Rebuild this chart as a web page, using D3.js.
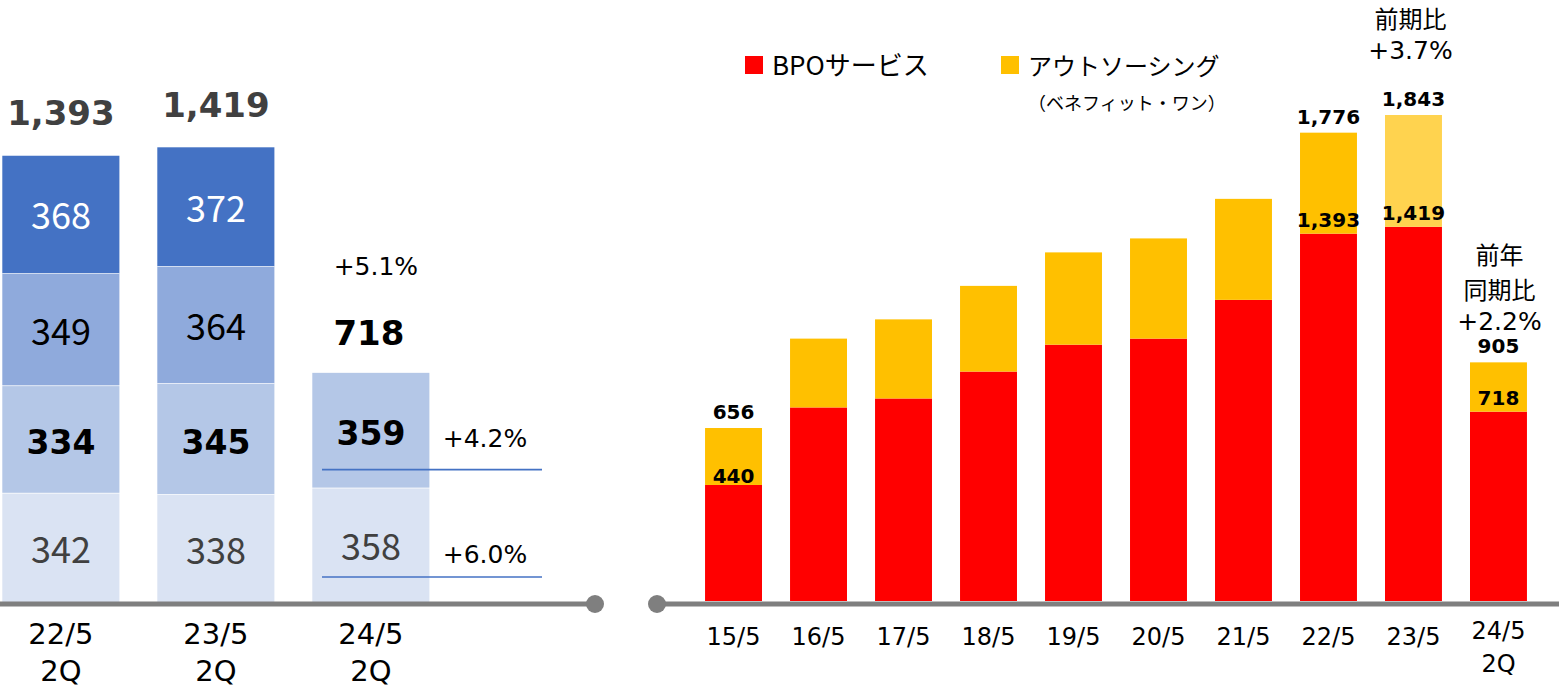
<!DOCTYPE html>
<html lang="ja">
<head>
<meta charset="utf-8">
<script src="https://d3js.org/d3.v7.min.js"></script>
<style>
  * { margin: 0; padding: 0; }
  body { background: #fff; }
  svg text { font-family: "Noto Sans CJK JP", "Noto Sans", sans-serif; }
</style>
</head>
<body>
<div id="chart"></div>
<script>
// ---- 左: 四半期別 ----
const leftCats = ["22/5 2Q", "23/5 2Q", "24/5 2Q"];
const q1 = [342, 338, 358];
const q2 = [334, 345, 359];
const q3 = [349, 364, 0];
const q4 = [368, 372, 0];
const leftTotals = ["1,393", "1,419", "718"];
const leftGrowth = ["+5.1%", "+4.2%", "+6.0%"];

// ---- 右: 年度別 ----
const years = ["15/5", "16/5", "17/5", "18/5", "19/5", "20/5", "21/5", "22/5", "23/5", "24/5 2Q"];
const bpo = [440, 734, 768, 870, 972, 995, 1142, 1393, 1419, 718];
const outsourcing = [216, 261, 300, 325, 350, 380, 383, 383, 424, 187];
const totalLabels = ["656", "", "", "", "", "", "", "1,776", "1,843", "905"];
const bpoLabels = ["440", "", "", "", "", "", "", "1,393", "1,419", "718"];

const width = 1559, height = 691;
const svg = d3.select("#chart").append("svg")
  .attr("width", width).attr("height", height);

const VER = "'DejaVu Sans'";

/* ------------------ 左のチャート ------------------ */
const xL = d3.scaleBand().domain(leftCats).range([-35.2, 467]).padding(0.24);
const yL = d3.scaleLinear().domain([0, 1419]).range([603, 147]);

const qColors = ["#DAE3F3", "#B4C7E7", "#8FAADC", "#4472C4"];
const quarters = [q1, q2, q3, q4];
const qLabelStyle = [
  { fill: "#404040", weight: "normal", font: "'Noto Sans CJK JP'" },
  { fill: "#000", weight: "bold", font: VER },
  { fill: "#000", weight: "normal", font: "'Noto Sans CJK JP'" },
  { fill: "#fff", weight: "normal", font: "'Noto Sans CJK JP'" }
];

leftCats.forEach((c, i) => {
  let base = 0;
  quarters.forEach((q, k) => {
    const v = q[i];
    if (!v) return;
    const y0 = yL(base), y1 = yL(base + v);
    svg.append("rect")
      .attr("x", xL(c)).attr("y", y1)
      .attr("width", xL.bandwidth()).attr("height", y0 - y1)
      .attr("fill", qColors[k])
      .attr("stroke", "#fff").attr("stroke-width", 0.6);
    const st = qLabelStyle[k];
    svg.append("text")
      .attr("x", xL(c) + xL.bandwidth() / 2)
      .attr("y", (y0 + y1) / 2 + 15)
      .attr("text-anchor", "middle")
      .style("font-family", st.font)
      .style("font-size", st.weight === "bold" ? "33px" : "36px")
      .style("font-weight", st.weight)
      .attr("fill", st.fill)
      .text(v);
    base += v;
  });
});

// 合計
leftCats.forEach((c, i) => {
  const tot = d3.sum(quarters, q => q[i]);
  const last = i === 2;
  svg.append("text")
    .attr("x", xL(c) + xL.bandwidth() / 2 + (last ? -2 : 0))
    .attr("y", last ? yL(tot) - 28 : yL(tot) - 30)
    .attr("text-anchor", "middle")
    .style("font-family", VER)
    .style("font-size", "34px")
    .style("font-weight", "bold")
    .attr("fill", last ? "#000" : "#404040")
    .text(leftTotals[i]);
});

// 24/5 2Q 伸び率
const c3 = leftCats[2];
svg.append("text")
  .attr("x", xL(c3) + xL.bandwidth() / 2 + 5)
  .attr("y", yL(717) - 98)
  .attr("text-anchor", "middle")
  .style("font-family", VER)
  .style("font-size", "25px")
  .attr("fill", "#000")
  .text(leftGrowth[0]);

const growthBase = [q1[2] + q2[2], q1[2]];
const lineOff = [97, 89];
const textOff = [23, 14];
[leftGrowth[1], leftGrowth[2]].forEach((g, k) => {
  const ly = yL(growthBase[k]) + lineOff[k];
  svg.append("line")
    .attr("x1", xL(c3) + 10).attr("x2", xL(c3) + 230)
    .attr("y1", ly).attr("y2", ly)
    .attr("stroke", "#4472C4").attr("stroke-width", 1.6);
  svg.append("text")
    .attr("x", xL(c3) + 173)
    .attr("y", ly - textOff[k])
    .attr("text-anchor", "middle")
    .style("font-family", VER)
    .style("font-size", "25px")
    .attr("fill", "#000")
    .text(g);
});

// 左 軸
svg.append("line")
  .attr("x1", 0).attr("x2", 595).attr("y1", 604).attr("y2", 604)
  .attr("stroke", "#7F7F7F").attr("stroke-width", 5);
svg.append("circle").attr("cx", 595).attr("cy", 604).attr("r", 9).attr("fill", "#7F7F7F");

const axL = svg.append("g").attr("transform", "translate(0,604)")
  .call(d3.axisBottom(xL).tickSize(0).tickPadding(0).tickFormat(""));
axL.select(".domain").remove();
axL.selectAll(".tick").each(function(d) {
  d.split(" ").forEach((p, j) => {
    d3.select(this).append("text")
      .attr("text-anchor", "middle")
      .attr("fill", "#000")
      .style("font-family", VER)
      .style("font-size", "29px")
      .attr("x", 0).attr("y", 40 + j * 37).text(p);
  });
});

/* ------------------ 右のチャート ------------------ */
const xR = d3.scaleBand().domain(years).range([677, 1555]).padding(0.33);
const yR = d3.scaleLinear().domain([0, 1843]).range([601, 115]);

years.forEach((yr, i) => {
  const x = xR(yr), w = xR.bandwidth();
  svg.append("rect")
    .attr("x", x).attr("y", yR(bpo[i]))
    .attr("width", w).attr("height", yR(0) - yR(bpo[i]))
    .attr("fill", "#FF0000");
  svg.append("rect")
    .attr("x", x).attr("y", yR(bpo[i] + outsourcing[i]))
    .attr("width", w).attr("height", yR(bpo[i]) - yR(bpo[i] + outsourcing[i]))
    .attr("fill", i === 8 ? "#FFD34F" : "#FFC000");
  if (totalLabels[i]) {
    svg.append("text")
      .attr("x", x + w / 2)
      .attr("y", yR(bpo[i] + outsourcing[i]) - 9)
      .attr("text-anchor", "middle")
      .style("font-family", VER)
      .style("font-size", "20px").style("font-weight", "bold")
      .attr("fill", "#000")
      .text(totalLabels[i]);
  }
  if (bpoLabels[i]) {
    svg.append("text")
      .attr("x", x + w / 2)
      .attr("y", yR(bpo[i]) - (i === 0 ? 2 : 7))
      .attr("text-anchor", "middle")
      .style("font-family", VER)
      .style("font-size", "20px").style("font-weight", "bold")
      .attr("fill", "#000")
      .text(bpoLabels[i]);
  }
});

// 注記
function note(lines, cx, y0) {
  let y = y0;
  lines.forEach((s, j) => {
    const isPct = s.startsWith("+");
    if (j > 0) y += isPct ? 31 : 35;
    svg.append("text")
      .attr("x", cx).attr("y", y)
      .attr("text-anchor", "middle")
      .style("font-family", isPct ? VER : "'Noto Sans CJK JP'")
      .style("font-size", isPct ? "25px" : "24px")
      .attr("fill", "#000")
      .text(s);
  });
}
note(["前期比", "+3.7%"], xR("23/5") + xR.bandwidth() / 2 - 3, 28);
note(["前年", "同期比", "+2.2%"], xR("24/5 2Q") + xR.bandwidth() / 2 + 1, 264);

// 右 軸
svg.append("line")
  .attr("x1", 657).attr("x2", 1559).attr("y1", 604).attr("y2", 604)
  .attr("stroke", "#7F7F7F").attr("stroke-width", 5);
svg.append("circle").attr("cx", 657).attr("cy", 604).attr("r", 9).attr("fill", "#7F7F7F");

const axR = svg.append("g").attr("transform", "translate(0,604)")
  .call(d3.axisBottom(xR).tickSize(0).tickPadding(0).tickFormat(""));
axR.select(".domain").remove();
axR.selectAll(".tick").each(function(d) {
  const parts = d.split(" ");
  parts.forEach((p, j) => {
    d3.select(this).append("text")
      .attr("text-anchor", "middle")
      .attr("fill", "#000")
      .style("font-family", VER)
      .style("font-size", "24px")
      .attr("x", 0)
      .attr("y", (parts.length > 1 ? 35 : 41) + j * 33).text(p);
  });
});

// 凡例
const legend = [
  { label: "BPOサービス", color: "#FF0000", x: 745, size: 26 },
  { label: "アウトソーシング", color: "#FFC000", x: 1001, size: 24 }
];
legend.forEach(l => {
  svg.append("rect").attr("x", l.x).attr("y", 56).attr("width", 18).attr("height", 18).attr("fill", l.color);
  svg.append("text").attr("x", l.x + 27).attr("y", 75)
    .style("font-size", l.size + "px").attr("fill", "#000").text(l.label);
});
svg.append("text").attr("x", 1028).attr("y", 110)
  .style("font-size", "18px").attr("fill", "#000").text("（ベネフィット・ワン）");
</script>
</body>
</html>
